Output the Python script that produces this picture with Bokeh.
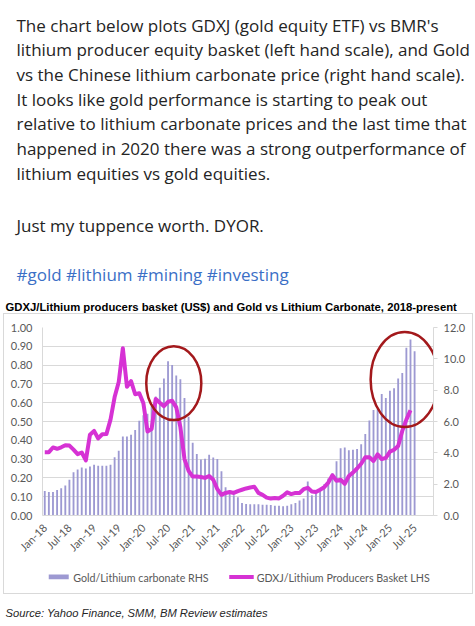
from math import pi
from bokeh.plotting import figure
from bokeh.layouts import column
from bokeh.models import (Range1d, LinearAxis, FixedTicker, Label, Legend, LegendItem,
                          NumeralTickFormatter)
from bokeh.embed import file_html
from bokeh.resources import INLINE

# ---------------- data ----------------
years = [2018, 2019, 2020, 2021, 2022, 2023, 2024, 2025]
month_names = ["Jan", "Feb", "Mar", "Apr", "May", "Jun",
               "Jul", "Aug", "Sep", "Oct", "Nov", "Dec"]

# Gold / lithium carbonate ratio (RHS), monthly Jan-18 .. Jul-25
gold_li_carbonate = [
    1.56, 1.50, 1.50, 1.62, 1.74, 1.92, 2.28, 2.76, 2.94, 3.06, 3.00, 3.12,
    3.24, 3.18, 3.18, 3.18, 3.24, 3.72, 4.14, 5.04, 5.04, 5.16, 5.45, 6.05,
    6.40, 6.50, 7.00, 7.60, 8.15, 8.75, 9.85, 9.60, 8.93, 8.70, 7.50, 6.30,
    4.65, 3.93, 3.58, 3.62, 3.87, 3.70, 3.60, 2.82, 1.80, 1.45, 1.30, 1.16,
    0.80, 0.74, 0.72, 0.72, 0.72, 0.69, 0.69, 0.67, 0.63, 0.63, 0.59, 0.63,
    0.72, 0.80, 0.95, 1.09, 2.17, 1.30, 1.40, 1.60, 2.00, 2.36, 2.70, 3.47,
    4.30, 4.34, 4.17, 4.20, 4.25, 4.55, 5.20, 6.06, 6.74, 6.80, 7.75, 7.50,
    7.96, 8.13, 8.74, 9.10, 10.70, 11.24, 10.48,
]

# GDXJ / lithium producers basket (LHS), monthly Jan-18 .. Jun-25
gdxj_li_basket = [
    0.337, 0.337, 0.362, 0.355, 0.363, 0.374, 0.372, 0.350, 0.326, 0.335, 0.293, 0.430,
    0.450, 0.410, 0.432, 0.433, 0.510, 0.630, 0.710, 0.890, 0.685, 0.715, 0.645, 0.650,
    0.597, 0.447, 0.460, 0.620, 0.600, 0.582, 0.605, 0.610, 0.575, 0.470, 0.300, 0.237,
    0.207, 0.207, 0.205, 0.200, 0.210, 0.190, 0.140, 0.110, 0.120, 0.125, 0.120, 0.130,
    0.137, 0.144, 0.149, 0.153, 0.120, 0.110, 0.095, 0.090, 0.093, 0.091, 0.105, 0.123,
    0.114, 0.120, 0.120, 0.140, 0.147, 0.128, 0.125, 0.137, 0.150, 0.175, 0.214, 0.185,
    0.190, 0.168, 0.210, 0.228, 0.250, 0.275, 0.310, 0.310, 0.290, 0.325, 0.300, 0.307,
    0.340, 0.350, 0.370, 0.450, 0.510, 0.560,
]

months = [f"{m}-{str(y)[2:]}" for y in years for m in month_names][:len(gold_li_carbonate)]
tick_positions = list(range(0, len(months), 6))
tick_labels = [months[i] for i in tick_positions]
lhs_ticks = [0.0, 0.1, 0.2, 0.3, 0.4, 0.5, 0.6, 0.7, 0.8, 0.9, 1.0]
rhs_ticks = [0.0, 2.0, 4.0, 6.0, 8.0, 10.0, 12.0]

# highlighted regions (month index centre, LHS value centre, width in months, height in LHS units)
circle_x = [31.4, 87.6]
circle_y = [0.704, 0.723]
circle_w = [13.4, 16.6]
circle_h = [0.393, 0.505]

post_lines = [
    "The chart below plots GDXJ (gold equity ETF) vs BMR's",
    "lithium producer equity basket (left hand scale), and Gold",
    "vs the Chinese lithium carbonate price (right hand scale).",
    "It looks like gold performance is starting to peak out",
    "relative to lithium carbonate prices and the last time that",
    "happened in 2020 there was a strong outperformance of",
    "lithium equities vs gold equities.",
]
post_tail = "Just my tuppence worth. DYOR."
hashtags = "#gold #lithium #mining #investing"
chart_title = "GDXJ/Lithium producers basket (US$) and Gold vs Lithium Carbonate, 2018-present"
source_text = "Source: Yahoo Finance, SMM, BM Review estimates"
legend_labels = ["Gold/Lithium carbonate RHS", "GDXJ/Lithium Producers Basket LHS"]

BAR = "#9d99d2"
LINE = "#d632d4"
RING = "#a3191c"
GRID = "#d9d9d9"
AXTXT = "#595959"

idx = list(range(len(gold_li_carbonate)))
idx_line = list(range(len(gdxj_li_basket)))
NAN = float("nan")


def pixel_fig(w, h, **kw):
    f = figure(width=w, height=h, x_range=Range1d(0, w), y_range=Range1d(h, 0),
               min_border=0, x_axis_location=None, y_axis_location=None,
               toolbar_location=None, output_backend="svg", title=None,
               outline_line_color=None, background_fill_color="white",
               border_fill_color="white", **kw)
    f.grid.visible = False
    return f


def txt(f, x, y, s, font, size, color, style="normal"):
    f.add_layout(Label(x=x, y=y, text=s, text_font=font, text_font_size=size,
                       text_color=color, text_font_style=style,
                       text_baseline="alphabetic", text_align="left"))


# ---------------- post text + chart title ----------------
top = pixel_fig(475, 313)
for i, s in enumerate(post_lines):
    txt(top, 16, 24.5 + i * 24.7, s, "Open Sans", "17px", "#242424")
txt(top, 16, 225, post_tail, "Open Sans", "17px", "#242424")
txt(top, 16, 274.3, hashtags, "Open Sans", "17px", "#3b6fc6")
txt(top, 5, 306.7, chart_title, "Liberation Sans", "11.3px", "#000000", "bold")

# ---------------- chart ----------------
p = figure(width=468, height=246, output_backend="svg", toolbar_location=None, title=None,
           x_range=Range1d(-0.55, 94.6), y_range=Range1d(0, 1.0),
           min_border_left=38, min_border_right=39, min_border_top=13, min_border_bottom=43,
           background_fill_color="white", border_fill_color="white", outline_line_color=None)
p.extra_y_ranges = {"rhs": Range1d(0, 12)}

yl = p.yaxis[0]
yl.ticker = FixedTicker(ticks=lhs_ticks)
yl.formatter = NumeralTickFormatter(format="0.00")
yl.axis_line_color = GRID
yl.major_tick_line_color = None
yl.minor_tick_line_color = None
yl.major_tick_out = 0
yl.major_tick_in = 0
yl.major_label_standoff = 10
yl.major_label_text_font = "Lato"
yl.major_label_text_font_size = "11px"
yl.major_label_text_color = AXTXT

yr = LinearAxis(y_range_name="rhs", ticker=FixedTicker(ticks=rhs_ticks),
                formatter=NumeralTickFormatter(format="0.0"))
yr.axis_line_color = GRID
yr.major_tick_line_color = GRID
yr.major_tick_out = 4
yr.major_tick_in = 0
yr.minor_tick_line_color = None
yr.major_label_standoff = 6
yr.major_label_text_font = "Lato"
yr.major_label_text_font_size = "11px"
yr.major_label_text_color = AXTXT
p.add_layout(yr, "right")

xa = p.xaxis[0]
xa.ticker = FixedTicker(ticks=tick_positions)
xa.major_label_overrides = {i: lab for i, lab in zip(tick_positions, tick_labels)}
xa.major_label_orientation = pi / 4
xa.axis_line_color = GRID
xa.major_tick_line_color = None
xa.minor_tick_line_color = None
xa.major_tick_out = 0
xa.major_tick_in = 0
xa.major_label_standoff = 10
xa.major_label_text_font = "Lato"
xa.major_label_text_font_size = "11px"
xa.major_label_text_color = AXTXT

p.xgrid.visible = False
p.ygrid.grid_line_color = GRID
p.ygrid.grid_line_width = 1

bars = p.vbar(x=idx, top=gold_li_carbonate, width=0.45, bottom=0, y_range_name="rhs",
              fill_color=BAR, line_color=None)
line = p.line(x=idx_line, y=gdxj_li_basket, line_width=4, line_color=LINE, line_join="round")
p.ellipse(x=circle_x, y=circle_y, width=circle_w, height=circle_h,
          fill_color=None, line_color=RING, line_width=2.5)

# ---------------- legend strip ----------------
leg = pixel_fig(468, 33)
kb = leg.vbar(x=[NAN], top=[NAN], width=0.45, fill_color=BAR, line_color=None)
kl = leg.line(x=[NAN, NAN], y=[NAN, NAN], line_width=4, line_color=LINE)
legend = Legend(items=[LegendItem(label=legend_labels[0], renderers=[kb]),
                       LegendItem(label=legend_labels[1], renderers=[kl])],
                orientation="horizontal", location="center", spacing=20, label_standoff=3,
                glyph_width=25, glyph_height=6, label_height=12, padding=2, margin=0,
                border_line_color=None, background_fill_alpha=0,
                label_text_font="Lato", label_text_font_size="10.7px", label_text_color=AXTXT)
leg.add_layout(legend)

box = column(p, leg, spacing=0, margin=(0, 0, 0, 3),
             styles={"border": "1px solid #d9d9d9"})

# ---------------- source ----------------
src = pixel_fig(475, 32)
txt(src, 5, 18.7, source_text, "Liberation Sans", "11.2px", "#262626", "italic")

page = column(top, box, src, spacing=0)
open("out.html", "w").write(file_html(page, INLINE))
